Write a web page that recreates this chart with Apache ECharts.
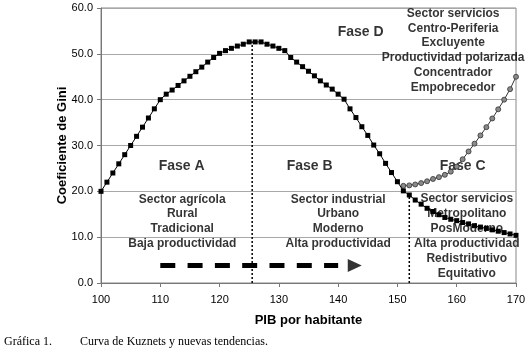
<!DOCTYPE html>
<html><head><meta charset="utf-8">
<script src="https://cdn.jsdelivr.net/npm/echarts@6/dist/echarts.min.js"></script>
<style>html,body{margin:0;padding:0;background:#fff}#c{width:529px;height:355px}</style>
</head><body><div id="c"></div>
<script>
// ---- data ----
const pib = [100,101,102,103,104,105,106,107,108,109,110,111,112,113,114,115,116,117,118,119,120,121,122,123,124,125,126,127,128,129,130,131,132,133,134,135,136,137,138,139,140,141,142,143,144,145,146,147,148,149,150,151,152,153,154,155,156,157,158,159,160,161,162,163,164,165,166,167,168,169,170];
const giniKuznets = [20,22,24,26,28,30,32,34,36,38,40,41.2,42.1,43.1,44.1,45.1,46.1,47.1,48.2,49.2,50.1,50.7,51.2,51.7,52.1,52.6,52.6,52.6,52.1,51.7,51.2,50.7,49.2,48.2,47.2,46.2,45.2,44.1,43.2,42.3,41.2,40.1,38.0,36.1,34.1,32.2,30.1,28.2,26.1,24.1,22.1,20.1,19.2,18.1,17.2,16.3,15.6,14.9,14.3,13.9,13.6,13.2,12.9,12.5,12.2,11.9,11.6,11.3,11.0,10.7,10.4];
const pibNuevas = [151,152,153,154,155,156,157,158,159,160,161,162,163,164,165,166,167,168,169,170];
const giniNuevas = [21.2,21.3,21.5,21.8,22.2,22.7,23.1,23.6,24.3,25.4,27.0,28.7,30.4,32.2,34.0,35.9,37.9,40.0,42.3,45.0];
const faseDivisions = [125.5, 152];
const arrowRange = [110, 140];
const arrowHeadX = 142.8;
const arrowLevel = 3.8;
const xTickLabels = ['100','110','120','130','140','150','160','170'];
const yTickLabels = ['0.0','10.0','20.0','30.0','40.0','50.0','60.0'];
const faseTitles = ['Fase A','Fase B','Fase C','Fase D'];
const faseA = ['Sector agrícola','Rural','Tradicional','Baja productividad'];
const faseB = ['Sector industrial','Urbano','Moderno','Alta productividad'];
const faseC = ['Sector servicios','Metropolitano','PosModerno','Alta productividad','Redistributivo','Equitativo'];
const faseD = ['Sector servicios','Centro-Periferia','Excluyente','Productividad polarizada','Concentrador','Empobrecedor'];
const xName = 'PIB por habitante';
const yName = 'Coeficiente de Gini';
const captionNum = 'Gráfica 1.';
const captionText = 'Curva de Kuznets y nuevas tendencias.';

// ---- layout (anchors in data coordinates) ----
const titleAnchors = [[113.6,25.5],[135.2,25.5],[161.0,25.5],[143.8,54.7]];
const blockAnchors = [[113.7,13.4],[140.0,13.4],[161.7,10.2],[159.4,50.7]];
const blocks = [faseA, faseB, faseC, faseD];

const FONT = "'Liberation Sans', Arial, sans-serif";
const chart = echarts.init(document.getElementById('c'), null, {renderer:'canvas'});

function textSeries(anchor, text, size, lh) {
  return {
    type:'scatter', z:1, silent:true,
    data:[anchor], symbolSize:1, itemStyle:{color:'rgba(0,0,0,0)'},
    label:{show:true, position:'inside', formatter:text, color:'#000',
      fontFamily:FONT, fontWeight:'bold', fontSize:size, lineHeight:lh, align:'center', verticalAlign:'middle'}
  };
}

const series = [];
series.push({
  type:'line', name:'Kuznets', z:5,
  data: pib.map((x,i)=>[x, giniKuznets[i]]),
  symbol:'rect', symbolSize:5, showAllSymbol:true,
  itemStyle:{color:'#000'}, lineStyle:{color:'#000', width:1}
});
series.push({
  type:'line', name:'Nuevas', z:4,
  data: pibNuevas.map((x,i)=>[x, giniNuevas[i]]),
  symbol:'circle', symbolSize:5, showAllSymbol:true,
  itemStyle:{color:'#8a8a8a', borderColor:'#333', borderWidth:0.8}, lineStyle:{color:'#333', width:1}
});
faseDivisions.forEach((xv, k) => {
  const top = k === 0 ? giniKuznets[pib.indexOf(126)] : 19;
  series.push({
    type:'line', z:3, silent:true, symbol:'none',
    data:[[xv,0],[xv,top]],
    lineStyle:{color:'#000', width:1.5, type:[2,2]}
  });
});
series.push({
  type:'line', z:3, silent:true, symbol:'none',
  data:[[arrowRange[0],arrowLevel],[arrowRange[1],arrowLevel]],
  lineStyle:{color:'#000', width:5, type:[15,12.3], cap:'butt'}
});
series.push({
  type:'scatter', z:3, silent:true,
  data:[[arrowHeadX, arrowLevel]], symbol:'triangle', symbolRotate:-90, symbolSize:[13,14],
  itemStyle:{color:'#000'}
});
faseTitles.forEach((t,i)=> series.push(textSeries(titleAnchors[i], t, 14, 16)));
blocks.forEach((b,i)=> series.push(textSeries(blockAnchors[i], b.join('\n'), 12, 14.9)));

chart.setOption({
  animation:false,
  grid:{left:101, right:13, top:8, bottom:72, show:true, borderColor:'#888', borderWidth:1, backgroundColor:'rgba(0,0,0,0)'},
  xAxis:{
    type:'value', min:100, max:170, interval:10,
    name:xName, nameLocation:'middle', nameGap:31, nameMoveOverlap:false,
    nameTextStyle:{fontFamily:FONT, fontWeight:'bold', fontSize:13, color:'#000'},
    axisLine:{lineStyle:{color:'#777', width:1}},
    axisTick:{show:true, length:4, lineStyle:{color:'#777'}},
    axisLabel:{fontFamily:FONT, fontSize:11, color:'#000', margin:11,
      formatter:(v)=> xTickLabels[Math.round((v-100)/10)]},
    splitLine:{show:false}
  },
  yAxis:{
    type:'value', min:0, max:60, interval:10,
    name:yName, nameLocation:'middle', nameGap:32, nameRotate:90, nameMoveOverlap:false,
    nameTextStyle:{fontFamily:FONT, fontWeight:'bold', fontSize:13, color:'#000'},
    axisLine:{show:true, lineStyle:{color:'#777', width:1}},
    axisTick:{show:true, length:4, lineStyle:{color:'#777'}},
    axisLabel:{fontFamily:FONT, fontSize:11, color:'#000', margin:8,
      formatter:(v)=> yTickLabels[Math.round(v/10)]},
    splitLine:{show:true, lineStyle:{color:'#a8a8a8', width:1}}
  },
  graphic:[
    {type:'text', left:4, top:336, style:{text:captionNum, font:"12px 'Liberation Serif', 'Times New Roman', serif", fill:'#000'}},
    {type:'text', left:80, top:336, style:{text:captionText, font:"12px 'Liberation Serif', 'Times New Roman', serif", fill:'#000'}}
  ],
  series:series
});
</script></body></html>
